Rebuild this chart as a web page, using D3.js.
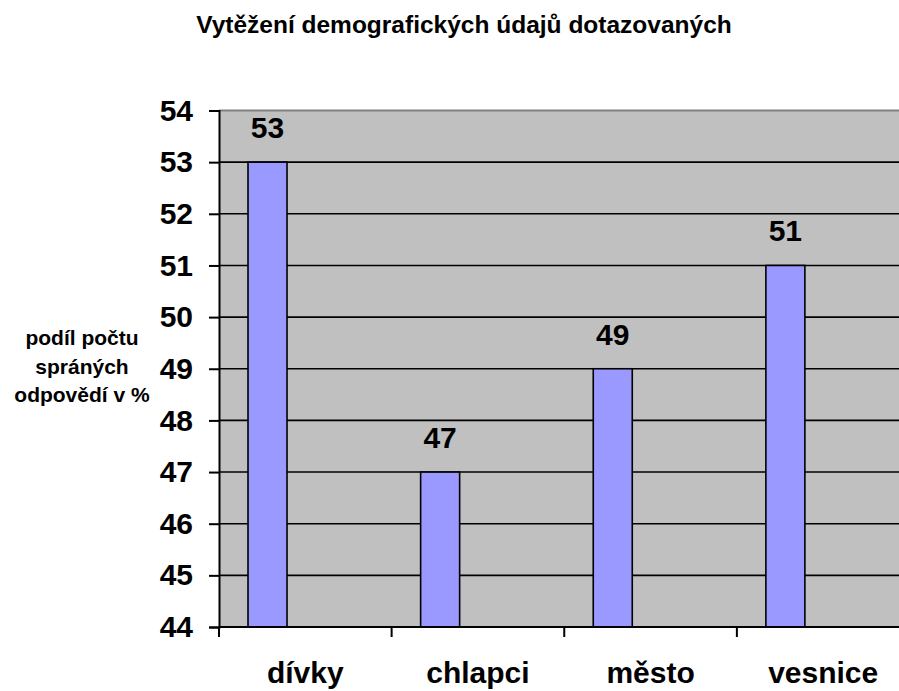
<!DOCTYPE html>
<html>
<head>
<meta charset="utf-8">
<script src="https://cdn.jsdelivr.net/npm/d3@7"></script>
<style>
  body { margin: 0; background: #fff; }
  svg { display: block; font-family: Arial, "Liberation Sans", sans-serif; font-weight: bold; }
</style>
</head>
<body>
<div id="chart"></div>
<script>
// data
var categories = ["dívky", "chlapci", "město", "vesnice"];
var values = [53, 47, 49, 51];
var yTicks = [44, 45, 46, 47, 48, 49, 50, 51, 52, 53, 54];
var chartTitle = "Vytěžení demografických údajů dotazovaných";
var yTitle = ["podíl počtu", "spráných", "odpovědí v %"];

const width = 899, height = 691;
const plot = { left: 219, top: 110.5, right: 909.5, bottom: 627 };

const svg = d3.select("#chart").append("svg")
    .attr("width", width)
    .attr("height", height);

var x = d3.scaleBand()
    .domain(categories)
    .range([plot.left, plot.right])
    .padding(0);

var y = d3.scaleLinear()
    .domain([44, 54])
    .range([plot.bottom, plot.top]);

// plot background
svg.append("rect")
    .attr("x", plot.left)
    .attr("y", plot.top)
    .attr("width", plot.right - plot.left)
    .attr("height", plot.bottom - plot.top)
    .attr("fill", "#c0c0c0");

// grid lines
svg.append("g")
    .selectAll("line")
    .data(yTicks.slice(1, -1))
    .enter()
    .append("line")
    .attr("x1", plot.left)
    .attr("x2", plot.right)
    .attr("y1", d => y(d))
    .attr("y2", d => y(d))
    .attr("stroke", "#000")
    .attr("stroke-width", 1.6);

// top border (grey)
svg.append("line")
    .attr("x1", plot.left)
    .attr("x2", plot.right)
    .attr("y1", plot.top)
    .attr("y2", plot.top)
    .attr("stroke", "#808080")
    .attr("stroke-width", 2);

// bars
var bw = x.bandwidth();
svg.append("g")
    .selectAll("rect")
    .data(values)
    .enter()
    .append("rect")
    .attr("x", (d, i) => x(categories[i]) + bw * 0.168)
    .attr("width", bw * 0.226)
    .attr("y", d => y(d))
    .attr("height", d => y(44) - y(d))
    .attr("fill", "#9999ff")
    .attr("stroke", "#000")
    .attr("stroke-width", 1.6);

// bar value labels
svg.append("g")
    .selectAll("text")
    .data(values)
    .enter()
    .append("text")
    .attr("x", (d, i) => x(categories[i]) + bw * 0.168 + bw * 0.113)
    .attr("y", d => y(d) - 24)
    .attr("text-anchor", "middle")
    .style("font-size", "30px")
    .text(d => d);

// y axis
var yAxis = d3.axisLeft(y)
    .tickValues(yTicks)
    .tickSize(10)
    .tickPadding(16)
    .tickFormat(d3.format("d"));

var gy = svg.append("g")
    .attr("transform", "translate(" + plot.left + ",0)")
    .call(yAxis);
gy.selectAll("path, line").attr("stroke", "#000").attr("stroke-width", 2);
gy.selectAll("text")
    .style("font-size", "30px")
    .style("font-family", "Arial, 'Liberation Sans', sans-serif")
    .style("font-weight", "bold")
    .attr("fill", "#000");

// x axis line and ticks at category boundaries
svg.append("line")
    .attr("x1", plot.left)
    .attr("x2", plot.right)
    .attr("y1", plot.bottom)
    .attr("y2", plot.bottom)
    .attr("stroke", "#000")
    .attr("stroke-width", 2);

svg.append("g")
    .selectAll("line")
    .data(categories)
    .enter()
    .append("line")
    .attr("x1", d => x(d))
    .attr("x2", d => x(d))
    .attr("y1", plot.bottom)
    .attr("y2", plot.bottom + 10)
    .attr("stroke", "#000")
    .attr("stroke-width", 2);

// category labels
svg.append("g")
    .selectAll("text")
    .data(categories)
    .enter()
    .append("text")
    .attr("x", d => x(d) + bw / 2)
    .attr("y", 683)
    .attr("text-anchor", "middle")
    .style("font-size", "30px")
    .text(d => d);

// title
svg.append("text")
    .attr("x", 464)
    .attr("y", 33)
    .attr("text-anchor", "middle")
    .style("font-size", "24.5px")
    .text(chartTitle);

// y axis title
svg.append("g")
    .selectAll("text")
    .data(yTitle)
    .enter()
    .append("text")
    .attr("x", 82)
    .attr("y", (d, i) => 345 + i * 28.5)
    .attr("text-anchor", "middle")
    .style("font-size", "21px")
    .text(d => d);
</script>
</body>
</html>
